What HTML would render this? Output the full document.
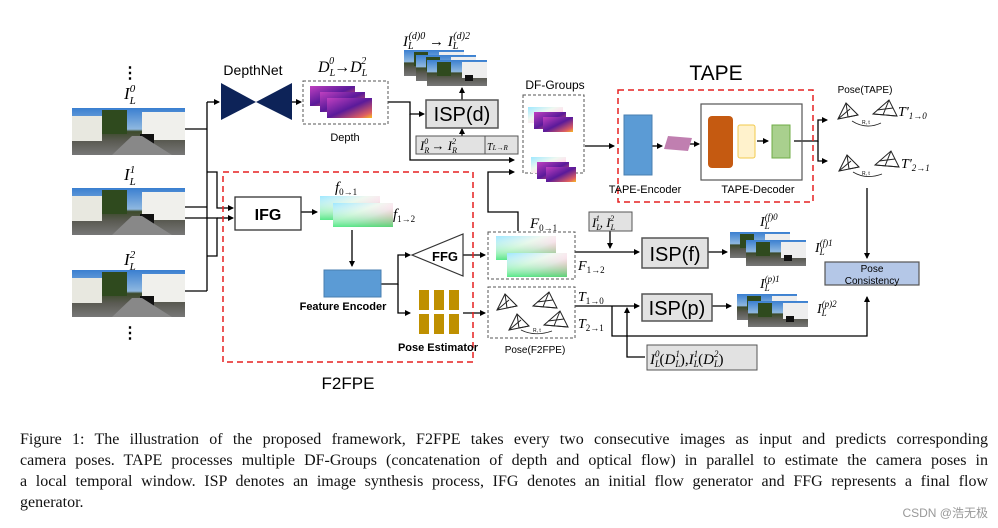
<!DOCTYPE html>
<html><head><meta charset="utf-8"><style>
body{margin:0;background:#fff;width:998px;height:528px;overflow:hidden;position:relative;font-family:"Liberation Sans",sans-serif}
svg{position:absolute;left:0;top:0}
.cap{position:absolute;left:20px;width:968px;font-family:"Liberation Serif",serif;font-size:16px;line-height:21px;top:429px;color:#111}
.cap div{text-align:justify;text-align-last:justify;white-space:normal}
.cap div.l{text-align-last:left}
.wm{position:absolute;right:10px;top:504px;font-size:12px;color:#999;font-family:"Liberation Sans","Noto Sans CJK SC",sans-serif}
</style></head><body>
<svg width="998" height="528" viewBox="0 0 998 528" font-family="Liberation Sans, sans-serif">
<defs>
<linearGradient id="sky" x1="0" y1="0" x2="0" y2="1"><stop offset="0" stop-color="#3a7fd0"/><stop offset=".45" stop-color="#8fb8e0"/><stop offset=".5" stop-color="#3c4a2a"/><stop offset=".7" stop-color="#5a5a52"/><stop offset="1" stop-color="#777"/></linearGradient>
<g id="ph"><rect width="113" height="47" fill="url(#sky)"/><rect x="0" y="8" width="30" height="25" fill="#e8e8e0"/><rect x="70" y="4" width="43" height="28" fill="#f0f0ec"/><rect x="30" y="2" width="25" height="24" fill="#2f4a1e"/><rect x="68" y="26" width="14" height="10" fill="#111"/><polygon points="40,47 60,28 70,28 100,47" fill="#888"/></g>
<g id="sph"><rect width="60" height="26" fill="url(#sky)"/><rect x="35" y="2" width="25" height="16" fill="#eee"/><rect x="10" y="2" width="14" height="14" fill="#2f4a1e"/><rect x="38" y="15" width="8" height="6" fill="#111"/></g>
<linearGradient id="dep" x1="0" y1="0" x2="1" y2="1"><stop offset="0" stop-color="#c040c0"/><stop offset=".5" stop-color="#5a1a9a"/><stop offset=".85" stop-color="#e06060"/><stop offset="1" stop-color="#f8c020"/></linearGradient>
<linearGradient id="flo" x1="0" y1="0" x2="1" y2="1"><stop offset="0" stop-color="#9ee8ff"/><stop offset=".4" stop-color="#f0f8f0"/><stop offset=".6" stop-color="#ffe0ee"/><stop offset="1" stop-color="#ff8090"/></linearGradient>
<linearGradient id="flo2" x1="0" y1="0" x2="0" y2="1"><stop offset="0" stop-color="#fff" stop-opacity="0"/><stop offset="1" stop-color="#30e870" stop-opacity=".8"/></linearGradient>
<g id="fl"><rect width="60" height="24" fill="url(#flo)"/><rect width="60" height="24" fill="url(#flo2)"/></g>
<g id="dp"><rect width="45" height="20" fill="url(#dep)"/></g>
<g id="dfg"><rect width="35" height="16" fill="url(#flo)"/><rect x="6" y="5" width="32" height="17" fill="url(#dep)"/><rect x="15" y="10" width="30" height="15" fill="url(#dep)"/></g>
<g id="pyr" fill="none" stroke="#222" stroke-width="1"><polygon points="0,16 8,0 20,12"/><line x1="8" y1="0" x2="10" y2="14"/><line x1="0" y1="16" x2="12" y2="6"/><line x1="10" y1="14" x2="20" y2="12"/></g>
<g id="pyr2" fill="none" stroke="#222" stroke-width="1"><polygon points="0,14 16,0 24,16"/><line x1="0" y1="14" x2="24" y2="16"/><line x1="16" y1="0" x2="10" y2="15"/><line x1="4" y1="10" x2="20" y2="8"/></g>
<marker id="a" markerWidth="6" markerHeight="6" refX="5" refY="3" orient="auto" markerUnits="userSpaceOnUse"><path d="M0,0 L6,3 L0,6z" fill="#000"/></marker>
</defs>

<text x="130" y="78" font-size="16" font-weight="bold" text-anchor="middle">⋮</text>
<text x="124" y="99" font-size="17" font-family="Liberation Serif" font-style="italic">I<tspan font-size="11" dy="5">L</tspan><tspan font-size="11" dx="-6" dy="-12">0</tspan></text>
<use href="#ph" x="72" y="108"/>
<text x="124" y="180" font-size="17" font-family="Liberation Serif" font-style="italic">I<tspan font-size="11" dy="5">L</tspan><tspan font-size="11" dx="-6" dy="-12">1</tspan></text>
<use href="#ph" x="72" y="188"/>
<text x="124" y="265" font-size="17" font-family="Liberation Serif" font-style="italic">I<tspan font-size="11" dy="5">L</tspan><tspan font-size="11" dx="-6" dy="-12">2</tspan></text>
<use href="#ph" x="72" y="270"/>
<text x="130" y="338" font-size="16" font-weight="bold" text-anchor="middle">⋮</text>

<g stroke="#000" stroke-width="1.3" fill="none">
<polyline points="185,129 207,129"/>
<polyline points="185,207 207,207"/>
<polyline points="185,218 217,218 217,256 207,256"/>
<polyline points="185,291 207,291"/>
<line x1="207" y1="102" x2="207" y2="291"/>
<polyline points="207,102 219,102" marker-end="url(#a)"/>
<polyline points="207,172 217,172 217,208 233,208" marker-end="url(#a)"/>
<polyline points="217,218 233,218" marker-end="url(#a)"/>
<line x1="292" y1="102" x2="301" y2="102" marker-end="url(#a)"/>
<polyline points="388,102 410,102 410,114 424,114" marker-end="url(#a)"/>
<polyline points="410,114 410,160 514,160" marker-end="url(#a)"/>
<line x1="462" y1="100" x2="462" y2="88" marker-end="url(#a)"/>
<line x1="462" y1="136" x2="462" y2="129" marker-end="url(#a)"/>
<polyline points="585,146 614,146" marker-end="url(#a)"/>
<line x1="301" y1="212" x2="317" y2="212" marker-end="url(#a)"/>
<line x1="352" y1="230" x2="352" y2="266" marker-end="url(#a)"/>
<polyline points="381,284 398,284 398,255 410,255" marker-end="url(#a)"/>
<polyline points="398,284 398,313 410,313" marker-end="url(#a)"/>
<line x1="463" y1="255" x2="485" y2="255" marker-end="url(#a)"/>
<line x1="463" y1="313" x2="485" y2="313" marker-end="url(#a)"/>
<polyline points="518,231 518,212 488,212 488,172 514,172" marker-end="url(#a)"/>
<line x1="575" y1="252" x2="639" y2="252" marker-end="url(#a)"/>
<line x1="610" y1="231" x2="610" y2="248" marker-end="url(#a)"/>
<line x1="708" y1="252" x2="727" y2="252" marker-end="url(#a)"/>
<line x1="575" y1="306" x2="639" y2="306" marker-end="url(#a)"/>
<line x1="712" y1="306" x2="731" y2="306" marker-end="url(#a)"/>
<polyline points="612,306 612,336 867,336 867,297" marker-end="url(#a)"/>
<polyline points="645,357 627,357 627,308" marker-end="url(#a)"/>
<line x1="867" y1="188" x2="867" y2="258" marker-end="url(#a)"/>
<polyline points="794,141 818,141 818,120 827,120" marker-end="url(#a)"/>
<polyline points="818,141 818,161 827,161" marker-end="url(#a)"/>
<line x1="652" y1="146" x2="662" y2="146" marker-end="url(#a)"/>
<line x1="690" y1="144" x2="699" y2="144" marker-end="url(#a)"/>
<line x1="757" y1="141" x2="768" y2="141" marker-end="url(#a)"/>
</g>

<text x="253" y="75" font-size="14" text-anchor="middle">DepthNet</text>
<polygon points="221,83 256,102 221,120" fill="#0d2358"/>
<polygon points="292,83 256,102 292,120" fill="#0d2358"/>
<text x="318" y="72" font-size="16" font-family="Liberation Serif" font-style="italic">D<tspan font-size="10" dy="4">L</tspan><tspan font-size="10" dx="-6" dy="-12">0</tspan><tspan dy="8" font-style="normal">→</tspan>D<tspan font-size="10" dy="4">L</tspan><tspan font-size="10" dx="-6" dy="-12">2</tspan></text>
<rect x="303" y="81" width="85" height="43" fill="none" stroke="#555" stroke-dasharray="3,2"/>
<use href="#dp" x="310" y="86"/><use href="#dp" x="320" y="92"/><use href="#dp" x="327" y="98"/>
<text x="345" y="141" font-size="11" text-anchor="middle">Depth</text>

<text x="403" y="46" font-size="15" font-family="Liberation Serif" font-style="italic">I<tspan font-size="10" dy="3">L</tspan><tspan font-size="10" dx="-5" dy="-10">(d)0</tspan><tspan dy="7" font-style="normal"> → </tspan>I<tspan font-size="10" dy="3">L</tspan><tspan font-size="10" dx="-5" dy="-10">(d)2</tspan></text>
<use href="#sph" x="404" y="50"/><use href="#sph" x="416" y="55"/><use href="#sph" x="427" y="60"/>
<rect x="426" y="100" width="72" height="28" fill="#e2e2e2" stroke="#555" stroke-width="1.5"/>
<text x="462" y="121" font-size="20" text-anchor="middle">ISP(d)</text>
<rect x="416" y="136" width="102" height="18" fill="#e2e2e2" stroke="#555"/>
<line x1="485" y1="136" x2="485" y2="154" stroke="#555"/>
<text x="420" y="150" font-size="13" font-family="Liberation Serif" font-style="italic">I<tspan font-size="8" dy="3">R</tspan><tspan font-size="8" dx="-5" dy="-9">0</tspan><tspan dy="6" font-style="normal"> → </tspan>I<tspan font-size="8" dy="3">R</tspan><tspan font-size="8" dx="-5" dy="-9">2</tspan></text>
<text x="487" y="150" font-size="10" font-family="Liberation Serif" font-style="italic">T<tspan font-size="7">L→R</tspan></text>

<text x="555" y="89" font-size="12" text-anchor="middle">DF-Groups</text>
<rect x="523" y="95" width="61" height="78" fill="none" stroke="#555" stroke-dasharray="3,2"/>
<use href="#dfg" x="528" y="107"/>
<use href="#dfg" x="531" y="157"/>

<text x="716" y="80" font-size="21" text-anchor="middle">TAPE</text>
<rect x="618" y="90" width="195" height="112" fill="none" stroke="#e52020" stroke-width="1.5" stroke-dasharray="6,4"/>
<rect x="624" y="115" width="28" height="60" fill="#5b9bd5" stroke="#4a7fb0"/>
<polygon points="668,136 692,138 688,151 664,149" fill="#c07fb0"/>
<rect x="701" y="104" width="101" height="76" fill="none" stroke="#555" stroke-width="1.2"/>
<rect x="708" y="116" width="25" height="52" rx="4" fill="#c55a11"/>
<rect x="738" y="125" width="17" height="33" rx="2" fill="#fff2cc" stroke="#f2c94c"/>
<rect x="772" y="125" width="18" height="33" fill="#a9d08e" stroke="#70ad47"/>
<text x="645" y="193" font-size="11" text-anchor="middle">TAPE-Encoder</text>
<text x="758" y="193" font-size="11" text-anchor="middle">TAPE-Decoder</text>

<text x="865" y="93" font-size="10" text-anchor="middle">Pose(TAPE)</text>
<use href="#pyr" x="838" y="103"/><use href="#pyr2" x="873" y="100"/>
<text x="898" y="116" font-size="14" font-family="Liberation Serif" font-style="italic">T'<tspan font-size="9" dy="3">1→0</tspan></text>
<path d="M852,121 Q866,130 881,123" fill="none" stroke="#222" stroke-width=".8"/>
<text x="862" y="124" font-size="5">R, t</text>
<use href="#pyr" x="839" y="155"/><use href="#pyr2" x="875" y="151"/>
<text x="901" y="168" font-size="14" font-family="Liberation Serif" font-style="italic">T'<tspan font-size="9" dy="3">2→1</tspan></text>
<path d="M853,172 Q866,180 882,174" fill="none" stroke="#222" stroke-width=".8"/>
<text x="862" y="175" font-size="5">R, t</text>

<rect x="223" y="172" width="250" height="190" fill="none" stroke="#e52020" stroke-width="1.5" stroke-dasharray="6,4"/>
<text x="348" y="389" font-size="17" text-anchor="middle">F2FPE</text>
<rect x="235" y="197" width="66" height="33" fill="#fff" stroke="#333" stroke-width="1.3"/>
<text x="268" y="220" font-size="16" font-weight="bold" text-anchor="middle">IFG</text>
<text x="335" y="192" font-size="15" font-family="Liberation Serif" font-style="italic">f<tspan font-size="9" dy="3" font-style="normal">0→1</tspan></text>
<use href="#fl" x="320" y="196"/><use href="#fl" x="333" y="203"/>
<text x="393" y="219" font-size="15" font-family="Liberation Serif" font-style="italic">f<tspan font-size="9" dy="3" font-style="normal">1→2</tspan></text>
<rect x="324" y="270" width="57" height="27" fill="#5b9bd5" stroke="#4a7fb0"/>
<text x="343" y="310" font-size="11" font-weight="bold" text-anchor="middle">Feature Encoder</text>
<polygon points="412,255 463,234 463,276" fill="#fff" stroke="#333" stroke-width="1.2"/>
<text x="445" y="261" font-size="13" font-weight="bold" text-anchor="middle">FFG</text>
<rect x="419" y="290" width="10" height="20" fill="#bf9000"/><rect x="434" y="290" width="10" height="20" fill="#bf9000"/><rect x="449" y="290" width="10" height="20" fill="#bf9000"/>
<rect x="419" y="314" width="10" height="20" fill="#bf9000"/><rect x="434" y="314" width="10" height="20" fill="#bf9000"/><rect x="449" y="314" width="10" height="20" fill="#bf9000"/>
<text x="438" y="351" font-size="11" font-weight="bold" text-anchor="middle">Pose Estimator</text>

<text x="530" y="228" font-size="15" font-family="Liberation Serif" font-style="italic">F<tspan font-size="9" dy="3" font-style="normal">0→1</tspan></text>
<rect x="488" y="232" width="87" height="47" fill="none" stroke="#555" stroke-dasharray="3,2"/>
<use href="#fl" x="496" y="236"/><use href="#fl" x="507" y="253"/>
<text x="578" y="270" font-size="14" font-family="Liberation Serif" font-style="italic">F<tspan font-size="9" dy="3" font-style="normal">1→2</tspan></text>
<rect x="488" y="287" width="87" height="51" fill="none" stroke="#555" stroke-dasharray="3,2"/>
<use href="#pyr" x="497" y="294"/><use href="#pyr2" x="533" y="292"/><use href="#pyr" x="509" y="314"/><use href="#pyr2" x="544" y="311"/>
<path d="M521,330 Q535,337 552,331" fill="none" stroke="#222" stroke-width=".8"/>
<text x="533" y="332" font-size="5">R, t</text>
<text x="535" y="353" font-size="10" text-anchor="middle">Pose(F2FPE)</text>
<text x="578" y="301" font-size="14" font-family="Liberation Serif" font-style="italic">T<tspan font-size="9" dy="3" font-style="normal">1→0</tspan></text>
<text x="578" y="328" font-size="14" font-family="Liberation Serif" font-style="italic">T<tspan font-size="9" dy="3" font-style="normal">2→1</tspan></text>

<rect x="589" y="212" width="43" height="19" fill="#e2e2e2" stroke="#555"/>
<text x="592" y="227" font-size="13" font-family="Liberation Serif" font-style="italic">I<tspan font-size="8" dy="3">L</tspan><tspan font-size="8" dx="-5" dy="-9">1</tspan><tspan dy="6">, I</tspan><tspan font-size="8" dy="3">L</tspan><tspan font-size="8" dx="-5" dy="-9">2</tspan></text>
<rect x="642" y="238" width="66" height="30" fill="#e2e2e2" stroke="#555" stroke-width="1.5"/>
<text x="675" y="261" font-size="20" text-anchor="middle">ISP(f)</text>
<rect x="642" y="294" width="70" height="27" fill="#e2e2e2" stroke="#555" stroke-width="1.5"/>
<text x="677" y="315" font-size="20" text-anchor="middle">ISP(p)</text>
<rect x="647" y="345" width="110" height="25" fill="#e2e2e2" stroke="#555"/>
<text x="650" y="364" font-size="15" font-family="Liberation Serif" font-style="italic">I<tspan font-size="9" dy="3">L</tspan><tspan font-size="9" dx="-5" dy="-10">0</tspan><tspan dy="7" font-style="normal">(</tspan>D<tspan font-size="9" dy="3">L</tspan><tspan font-size="9" dx="-5" dy="-10">1</tspan><tspan dy="7" font-style="normal">),</tspan>I<tspan font-size="9" dy="3">L</tspan><tspan font-size="9" dx="-5" dy="-10">1</tspan><tspan dy="7" font-style="normal">(</tspan>D<tspan font-size="9" dy="3">L</tspan><tspan font-size="9" dx="-5" dy="-10">2</tspan><tspan dy="7" font-style="normal">)</tspan></text>

<text x="760" y="226" font-size="14" font-family="Liberation Serif" font-style="italic">I<tspan font-size="9" dy="3">L</tspan><tspan font-size="9" dx="-5" dy="-9">(f)0</tspan></text>
<use href="#sph" x="730" y="232"/><use href="#sph" x="746" y="240"/>
<text x="815" y="252" font-size="14" font-family="Liberation Serif" font-style="italic">I<tspan font-size="9" dy="3">L</tspan><tspan font-size="9" dx="-5" dy="-9">(f)1</tspan></text>
<text x="760" y="288" font-size="14" font-family="Liberation Serif" font-style="italic">I<tspan font-size="9" dy="3">L</tspan><tspan font-size="9" dx="-5" dy="-9">(p)1</tspan></text>
<use href="#sph" x="737" y="294"/><use href="#sph" x="748" y="301"/>
<text x="817" y="313" font-size="14" font-family="Liberation Serif" font-style="italic">I<tspan font-size="9" dy="3">L</tspan><tspan font-size="9" dx="-5" dy="-9">(p)2</tspan></text>

<rect x="825" y="262" width="94" height="23" fill="#b4c7e7" stroke="#555" stroke-width="1.2"/>
<text x="872" y="272" font-size="10" text-anchor="middle">Pose</text>
<text x="872" y="284" font-size="10" text-anchor="middle">Consistency</text>
</svg>
<div class="cap">
<div>Figure 1: The illustration of the proposed framework, F2FPE takes every two consecutive images as input and predicts corresponding</div>
<div>camera poses. TAPE processes multiple DF-Groups (concatenation of depth and optical flow) in parallel to estimate the camera poses in</div>
<div>a local temporal window. ISP denotes an image synthesis process, IFG denotes an initial flow generator and FFG represents a final flow</div>
<div class="l">generator.</div>
</div>
<div class="wm">CSDN @浩无极</div>
</body></html>
